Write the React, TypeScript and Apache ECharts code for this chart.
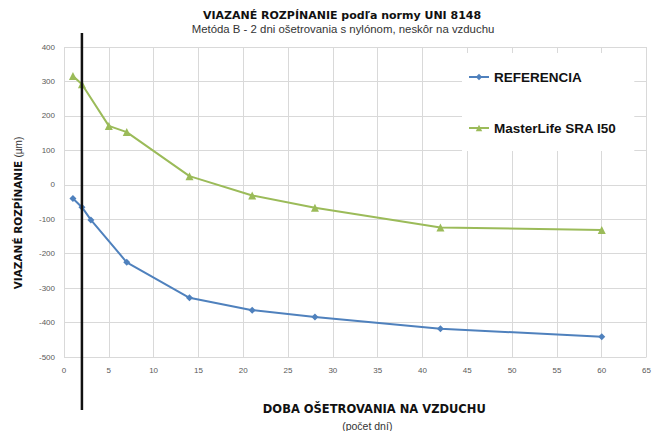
import React, { useEffect, useRef } from "react";
import * as echarts from "echarts";

const titleText = "VIAZANÉ ROZPÍNANIE podľa normy UNI 8148";
const subtitleText = "Metóda B - 2 dni ošetrovania s nylónom, neskôr na vzduchu";
const xName = "DOBA OŠETROVANIA NA VZDUCHU";
const xSubName = "(počet dní)";
const yNameBold = "VIAZANÉ ROZPÍNANIE";
const yNameUnit = "(µm)";

const seriesNames = ["REFERENCIA", "MasterLife SRA I50"];
const referenciaDays = [1, 2, 3, 7, 14, 21, 28, 42, 60];
const referenciaValues = [-40, -65, -102, -225, -328, -364, -384, -418, -441];
const masterDays = [1, 2, 5, 7, 14, 21, 28, 42, 60];
const masterValues = [316, 292, 171, 153, 25, -31, -67, -124, -131];
const markerDay = 2;

const FONT = "'Liberation Sans', Arial, sans-serif";
const HEAVY = "'DejaVu Sans', 'Liberation Sans', sans-serif";

export default function App() {
  const ref = useRef<HTMLDivElement>(null);
  useEffect(() => {
    if (!ref.current) return;
    const chart = echarts.init(ref.current, undefined, { renderer: "svg" });
    const option: any = {
      animation: false,
      backgroundColor: "#ffffff",
      textStyle: { fontFamily: FONT },
      grid: { left: 64, right: 6, top: 47, bottom: 74, containLabel: false },
      xAxis: {
        type: "value",
        min: 0,
        max: 65,
        interval: 5,
        axisLine: { show: false },
        axisTick: { show: false },
        axisLabel: { color: "#595959", fontSize: 8, margin: 9, fontFamily: FONT },
        splitLine: { show: true, lineStyle: { color: "#d9d9d9", width: 1 } },
      },
      yAxis: {
        type: "value",
        min: -500,
        max: 400,
        interval: 100,
        axisLine: { show: false },
        axisTick: { show: false },
        axisLabel: { color: "#595959", fontSize: 8, margin: 9, fontFamily: FONT },
        splitLine: { show: true, lineStyle: { color: "#d9d9d9", width: 1 } },
      },
      legend: {
        orient: "vertical",
        left: 462,
        top: 53,
        padding: [17, 18, 16, 6],
        backgroundColor: "#ffffff",
        itemGap: 37,
        itemWidth: 20,
        itemHeight: 8,
        data: seriesNames,
        textStyle: { fontSize: 13.5, fontWeight: "bold", color: "#111", fontFamily: FONT },
      },
      series: [
        {
          name: seriesNames[0],
          type: "line",
          data: referenciaDays.map((d, i) => [d, referenciaValues[i]]),
          symbol: "diamond",
          symbolSize: 7,
          lineStyle: { color: "#4f81bd", width: 2 },
          itemStyle: { color: "#4f81bd" },
          z: 3,
        },
        {
          name: seriesNames[1],
          type: "line",
          data: masterDays.map((d, i) => [d, masterValues[i]]),
          symbol: "triangle",
          symbolSize: 8,
          lineStyle: { color: "#9bbb59", width: 2 },
          itemStyle: { color: "#9bbb59" },
          z: 3,
        },
      ],
    };
    chart.setOption(option);
    const px = chart.convertToPixel({ xAxisIndex: 0 }, markerDay) as number;
    const cx = chart.convertToPixel({ xAxisIndex: 0 }, 32.5) as number;
    const center = (t: any) => ({
      ...t,
      textAlign: "center",
      align: "center",
      textVerticalAlign: "middle",
      verticalAlign: "middle",
    });
    chart.setOption({
      graphic: [
        {
          type: "text",
          x: 342,
          y: 15,
          style: center({ text: titleText, font: `bold 11px ${HEAVY}`, fill: "#111" }),
        },
        {
          type: "text",
          x: 343,
          y: 29,
          style: center({ text: subtitleText, font: `11.4px ${FONT}`, fill: "#333" }),
        },
        {
          type: "text",
          x: cx + 19,
          y: 409,
          style: center({ text: xName, font: `bold 11.5px ${HEAVY}`, fill: "#111" }),
        },
        {
          type: "text",
          x: cx + 12,
          y: 426,
          style: center({ text: xSubName, font: `10.5px ${FONT}`, fill: "#333" }),
        },
        {
          type: "text",
          x: 18,
          y: 213,
          rotation: Math.PI / 2,
          style: center({
            text: `{b|${yNameBold}} {n|${yNameUnit}}`,
            rich: {
              b: { font: `bold 10.5px ${HEAVY}`, fill: "#111" },
              n: { font: `10px ${FONT}`, fill: "#333" },
            },
          }),
        },
        {
          type: "line",
          z: 10,
          shape: { x1: px, y1: 33, x2: px, y2: 410 },
          style: { stroke: "#111111", lineWidth: 2.5 },
        },
      ],
    });
    return () => chart.dispose();
  }, []);
  return (
    <div
      ref={ref}
      style={{ position: "fixed", left: 0, top: 0, width: 654, height: 431 }}
    />
  );
}
